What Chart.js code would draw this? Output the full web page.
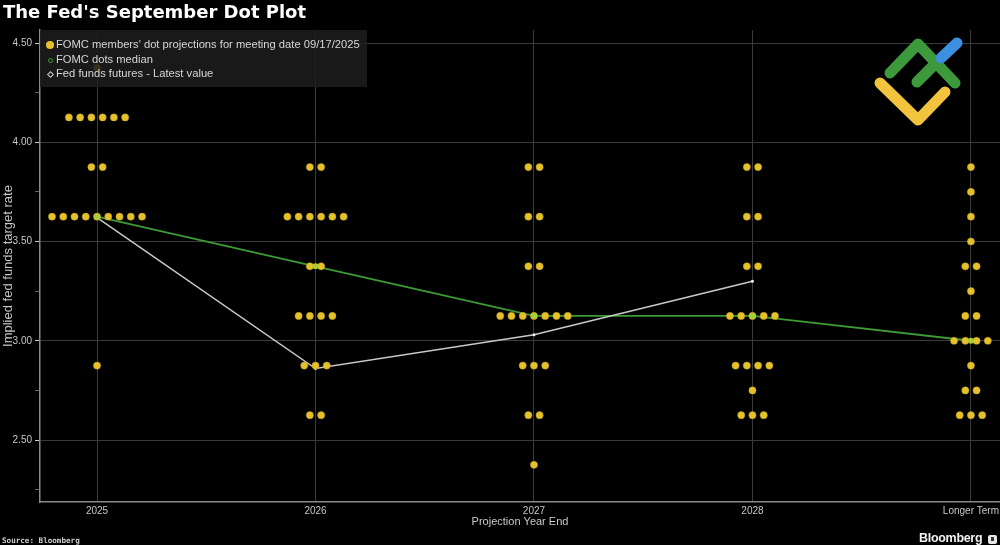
<!DOCTYPE html>
<html>
<head>
<meta charset="utf-8">
<script src="https://cdn.jsdelivr.net/npm/chart.js@4"></script>
<style>
    body { margin: 0; background: #000; }
    #wrap { position: relative; width: 1000px; height: 545px; background: #000; overflow: hidden; }
    #chart { position: absolute; left: 0; top: 0; }
    .title { position: absolute; left: 3px; top: 1px; font: bold 18px "DejaVu Sans", sans-serif; color: #fff; }
    .legend { position: absolute; left: 40px; top: 30px; width: 327px; height: 57px; background: rgba(28, 28, 28, 0.88); font: 11.2px "Liberation Sans", sans-serif; color: #d6d6d6; }
    .legend div { position: absolute; left: 16px; white-space: nowrap; }
    .legend i { position: absolute; display: block; }
    .source { position: absolute; left: 2px; top: 536px; font: bold 7.6px "DejaVu Sans Mono", monospace; color: #d0d0d0; }
    .brand { position: absolute; left: 919px; top: 531px; font: bold 12.5px "Liberation Sans", sans-serif; letter-spacing: -0.3px; color: #f2f2f2; }
    .brand span { position: absolute; left: 69px; top: 4px; width: 9px; height: 9px; background: #e8e8e8; border-radius: 2px; }
    .brand span b { position: absolute; left: 3px; top: 2px; width: 3px; height: 4px; background: #333; }
    svg.logo { position: absolute; left: 850px; top: 25px; }
</style>
</head>
<body>
<div id="wrap">
    <canvas id="chart" width="1000" height="545"></canvas>
    <div class="title">The Fed's September Dot Plot</div>
    <div class="legend">
        <i style="left:6px;top:11px;width:8px;height:8px;border-radius:50%;background:#e5c22b"></i>
        <div style="top:8px">FOMC members' dot projections for meeting date 09/17/2025</div>
        <i style="left:8px;top:28px;width:3px;height:3px;border-radius:50%;border:1px solid #3d9b35"></i>
        <div style="top:23px">FOMC dots median</div>
        <i style="left:8px;top:42px;width:3px;height:3px;transform:rotate(45deg);border:1px solid #cfcfcf"></i>
        <div style="top:37px">Fed funds futures - Latest value</div>
    </div>
    <div class="source">Source: Bloomberg</div>
    <div class="brand">Bloomberg<span><b></b></span></div>
    <svg class="logo" width="150" height="110" viewBox="0 0 150 110">
        <g fill="none" stroke-linecap="round" stroke-linejoin="round" stroke-width="11">
            <polyline points="30,58 68,95 95,67" stroke="#f2c43d"/>
            <polyline points="40,48 68,19 105,58" stroke="#3c9a3c"/>
            <line x1="67" y1="57" x2="87" y2="37" stroke="#3c9a3c"/>
            <line x1="91" y1="33" x2="107" y2="18" stroke="#3d8fe0"/>
        </g>
    </svg>
</div>
<script>
// categories on the x axis
const categories = ['2025', '2026', '2027', '2028', 'Longer Term'];

// dot plot: rate levels and number of participants at each level
const rateLevels2025 = [4.375, 4.125, 3.875, 3.625, 2.875];
const dotCounts2025 = [1, 6, 2, 9, 1];
const rateLevels2026 = [3.875, 3.625, 3.375, 3.125, 2.875, 2.625];
const dotCounts2026 = [2, 6, 2, 4, 3, 2];
const rateLevels2027 = [3.875, 3.625, 3.375, 3.125, 2.875, 2.625, 2.375];
const dotCounts2027 = [2, 2, 2, 7, 3, 2, 1];
const rateLevels2028 = [3.875, 3.625, 3.375, 3.125, 2.875, 2.75, 2.625];
const dotCounts2028 = [2, 2, 2, 5, 4, 1, 3];
const rateLevelsLonger = [3.875, 3.75, 3.625, 3.5, 3.375, 3.25, 3.125, 3.0, 2.875, 2.75, 2.625];
const dotCountsLonger = [1, 1, 1, 1, 2, 1, 2, 4, 1, 2, 3];

// lines
const medianRates = [3.625, 3.375, 3.125, 3.125, 3.0];
const futuresRates = [3.62, 2.86, 3.03, 3.30];

// y axis ticks
const yMajorTicks = [2.5, 3.0, 3.5, 4.0, 4.5];
const yMinorTicks = [2.25, 2.75, 3.25, 3.75, 4.25];

const colors = {
    dot: '#e5c22b',
    median: '#3d9b35',
    medianPoint: '#a6cf3a',
    futures: '#c9c9c9',
    grid: '#3b3b3b',
    axis: '#8a8a8a',
    text: '#c8c8c8'
};

const DOT_GAP = 0.0515; // horizontal gap between dots at the same level

function buildDots(levels, counts, catIndex) {
    const pts = [];
    levels.forEach((rate, i) => {
        const n = counts[i];
        for (let j = 0; j < n; j++) {
            pts.push({ x: catIndex + (j - (n - 1) / 2) * DOT_GAP, y: rate });
        }
    });
    return pts;
}

const dotPoints = [
    ...buildDots(rateLevels2025, dotCounts2025, 0),
    ...buildDots(rateLevels2026, dotCounts2026, 1),
    ...buildDots(rateLevels2027, dotCounts2027, 2),
    ...buildDots(rateLevels2028, dotCounts2028, 3),
    ...buildDots(rateLevelsLonger, dotCountsLonger, 4)
];

const font = { family: '"Liberation Sans", sans-serif', size: 11 };
const tickFont = { family: '"Liberation Sans", sans-serif', size: 10 };

new Chart(document.getElementById('chart'), {
    type: 'scatter',
    data: {
        datasets: [
            {
                label: 'median points',
                data: medianRates.map((v, i) => ({ x: i, y: v })),
                showLine: false,
                pointRadius: 3,
                pointBackgroundColor: colors.medianPoint,
                pointBorderWidth: 0
            },
            {
                label: "FOMC members' dot projections for meeting date 09/17/2025",
                data: dotPoints,
                pointRadius: 3.6,
                pointBackgroundColor: colors.dot,
                pointBorderColor: '#b89a1c',
                pointBorderWidth: 0.5
            },
            {
                label: 'Fed funds futures - Latest value',
                data: futuresRates.map((v, i) => ({ x: i, y: v })),
                showLine: true,
                borderColor: colors.futures,
                borderWidth: 1.5,
                pointRadius: 1.5,
                pointBackgroundColor: '#eeeeee',
                pointBorderWidth: 0
            },
            {
                label: 'FOMC dots median',
                data: medianRates.map((v, i) => ({ x: i, y: v })),
                showLine: true,
                borderColor: colors.median,
                borderWidth: 1.8,
                pointRadius: 0
            }
        ]
    },
    options: {
        responsive: false,
        devicePixelRatio: 1,
        animation: false,
        layout: { autoPadding: false, padding: { top: 30, bottom: 16, left: 0, right: 0 } },
        plugins: {
            legend: { display: false },
            tooltip: { enabled: false }
        },
        scales: {
            x: {
                type: 'linear',
                min: -0.261,
                max: 4.133,
                afterBuildTicks: scale => {
                    scale.ticks = categories.map((c, i) => ({ value: i }));
                },
                afterFit: scale => {
                    scale.height = 27;
                    scale.paddingLeft = 0;
                    scale.paddingRight = 0;
                },
                ticks: {
                    color: colors.text,
                    font: tickFont,
                    padding: 3,
                    maxRotation: 0,
                    autoSkip: false,
                    callback: value => categories[value]
                },
                grid: { color: colors.grid, drawTicks: false },
                border: { color: colors.axis, width: 1.5 },
                title: {
                    display: true,
                    text: 'Projection Year End',
                    color: colors.text,
                    font: font,
                    padding: { top: 0, bottom: 0 }
                }
            },
            y: {
                min: 2.1877,
                max: 4.5655,
                afterBuildTicks: scale => {
                    scale.ticks = [...yMajorTicks, ...yMinorTicks]
                        .sort((a, b) => a - b)
                        .map(v => ({ value: v }));
                },
                afterFit: scale => {
                    scale.width = 40;
                    scale.paddingTop = 0;
                    scale.paddingBottom = 0;
                },
                ticks: {
                    color: colors.text,
                    font: tickFont,
                    padding: 3,
                    callback: value => yMajorTicks.includes(value) ? value.toFixed(2) : ''
                },
                grid: {
                    tickLength: 5,
                    color: ctx => (ctx.tick && yMajorTicks.includes(ctx.tick.value)) ? colors.grid : 'transparent',
                    tickColor: ctx => (ctx.tick && yMajorTicks.includes(ctx.tick.value)) ? '#d0d0d0' : '#666'
                },
                border: { color: colors.axis, width: 1.5 },
                title: {
                    display: true,
                    text: 'Implied fed funds target rate',
                    color: colors.text,
                    font: { family: '"Liberation Sans", sans-serif', size: 13 },
                    padding: { top: 1, bottom: 0 }
                }
            }
        }
    }
});
</script>
</body>
</html>
